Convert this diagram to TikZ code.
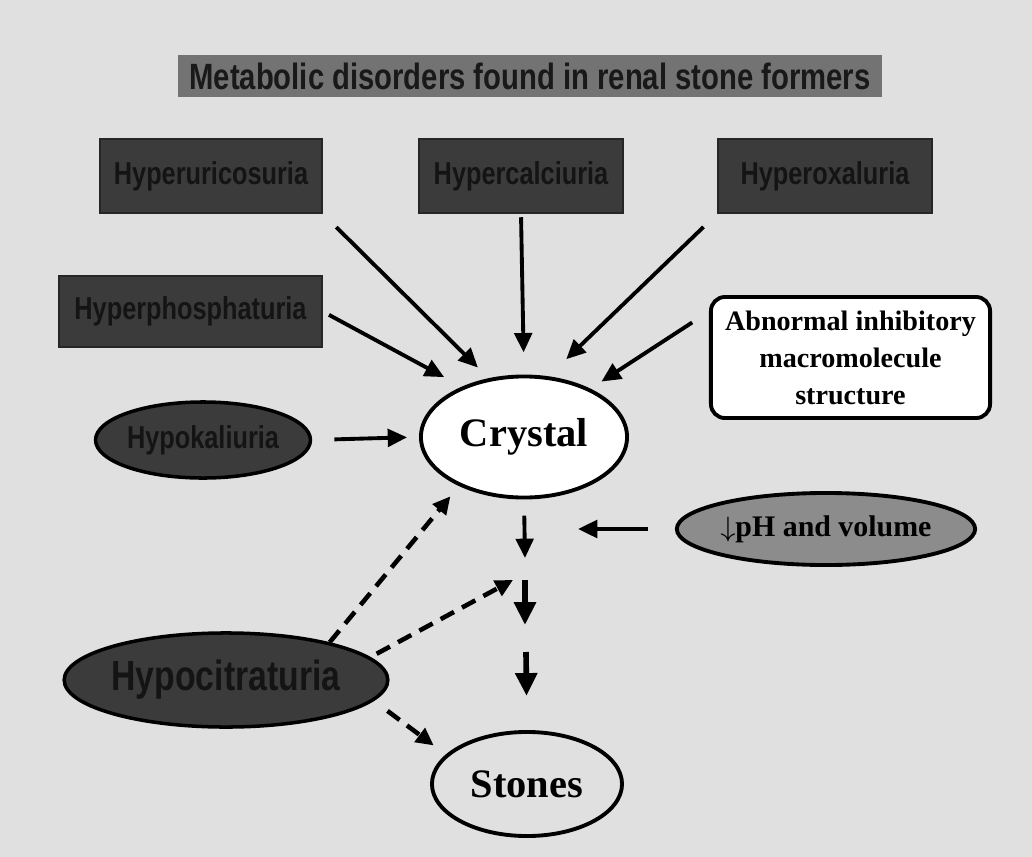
\documentclass[tikz,border=0pt]{standalone}
\usepackage{fontspec}
\setmainfont{Liberation Serif}
\newfontfamily\boxfont[FakeStretch=0.8]{Liberation Sans}
\usepackage{tikz}
\usetikzlibrary{positioning}
\usetikzlibrary{shapes,arrows.meta}
\definecolor{paper}{gray}{0.88}
\tikzstyle{titlebox}=[rectangle,fill=black!55,text=black!90,inner sep=0pt,font=\boxfont\bfseries\fontsize{10.4}{12}\selectfont]
\tikzstyle{darkbox}=[rectangle,draw=black!85,fill=black!77,text=black!92,inner sep=0pt,font=\boxfont\bfseries\fontsize{9}{10}\selectfont]
\tikzstyle{darkoval}=[ellipse,draw=black,line width=1pt,fill=black!77,text=black!92,inner sep=0pt,font=\boxfont\bfseries\fontsize{9}{10}\selectfont]
\tikzstyle{whiteoval}=[ellipse,draw=black,line width=1.1pt,fill=white,inner sep=0pt,font=\bfseries\fontsize{11.5}{13}\selectfont]
\tikzstyle{whitebox}=[rectangle,rounded corners=4pt,draw=black,line width=1.1pt,fill=white,inner sep=0pt,align=center,font=\bfseries\fontsize{8}{10.5}\selectfont]
\tikzstyle{edge} = [draw,line width=1.1pt,-{Triangle[length=5.5pt,width=5pt]}]
\tikzstyle{bigedge} = [draw,line width=1.6pt,-{Triangle[length=6.5pt,width=6pt]}]
\tikzstyle{dashededge} = [draw,line width=1.3pt,dash pattern=on 4.3pt off 2.6pt,-{Triangle[length=5pt,width=4.8pt]}]

\begin{document}
\begin{tikzpicture}[x=0.01cm,y=-0.01cm]

    \fill[paper] (0,0) rectangle (1032,857);
    \useasboundingbox (0,0) rectangle (1032,857);

    \node[titlebox,minimum width=7.04cm,minimum height=0.42cm] (title) at (530,76) {Metabolic disorders found in renal stone formers};

     \foreach \pos/\name/\label/\boxw/\boxh in {{(211,176)/uric/Hyperuricosuria/2.22/0.74}, {(521,176)/calc/Hypercalciuria/2.04/0.74},
         {(825,176)/oxal/Hyperoxaluria/2.14/0.74}, {(190.5,311.5)/phos/Hyperphosphaturia/2.63/0.71}}
        \node[darkbox,minimum width=\boxw cm,minimum height=\boxh cm] (\name) at \pos {\label};

     \node[darkoval,minimum width=2.13cm,minimum height=0.76cm] (kal) at (203,440) {Hypokaliuria};
     \node[darkoval,minimum width=3.2cm,minimum height=0.94cm,font=\boxfont\bfseries\fontsize{12}{13}\selectfont] (cit) at (226,680) {Hypocitraturia};

     \node[whiteoval,minimum width=2.06cm,minimum height=1.21cm] (crystal) at (524,437) {Crystal};
     \node[whiteoval,fill=none,minimum width=1.9cm,minimum height=1.04cm] (stones) at (527,784) {Stones};
     \node[whitebox,minimum width=2.79cm,minimum height=1.21cm] (abn) at (850.5,357.5) {Abnormal inhibitory\\macromolecule\\structure};
     \node[ellipse,draw=black,line width=1.1pt,fill=black!45,inner sep=0pt,minimum width=2.29cm,minimum height=0.72cm,font=\bfseries\fontsize{8.5}{10}\selectfont] (ph) at (826,529) {$\downarrow$pH and volume};

     % free ends on the way down to the stones
     \coordinate (phend) at (578,529);
     \coordinate (flowa) at (525,558);
     \coordinate (flowb) at (525,580);
     \coordinate (flowc) at (525,625);
     \coordinate (flowd) at (526,652);
     \coordinate (dashend) at (513,580);

  \foreach \source/\dest/\startgap/\endgap in {uric.south east/crystal.121/5.4/4.3, calc.south/crystal.north/1/6.3,
      oxal.south west/crystal.68/5.4/7, phos.east/crystal.141/2/5.7, abn.162/crystal.36/5.7/3.7,
      kal.east/crystal.west/6.3/3.4, ph.west/phend/7.7/0, crystal.south/flowa/4.6/0}
        \path[edge,shorten <=\startgap pt,shorten >=\endgap pt] (\source) -- (\dest);

    \path[bigedge] (flowb) -- (flowc);
    \path[bigedge,shorten >=9.7pt] (flowd) -- (stones.north);

  \foreach \source/\dest/\startgap/\endgap in {cit.20/crystal.217/0/3.8, cit.9/dashend/2/0, cit.-8/stones.160/4.8/4.3}
        \path[dashededge,shorten <=\startgap pt,shorten >=\endgap pt] (\source) -- (\dest);

    \end{tikzpicture}
\end{document}
